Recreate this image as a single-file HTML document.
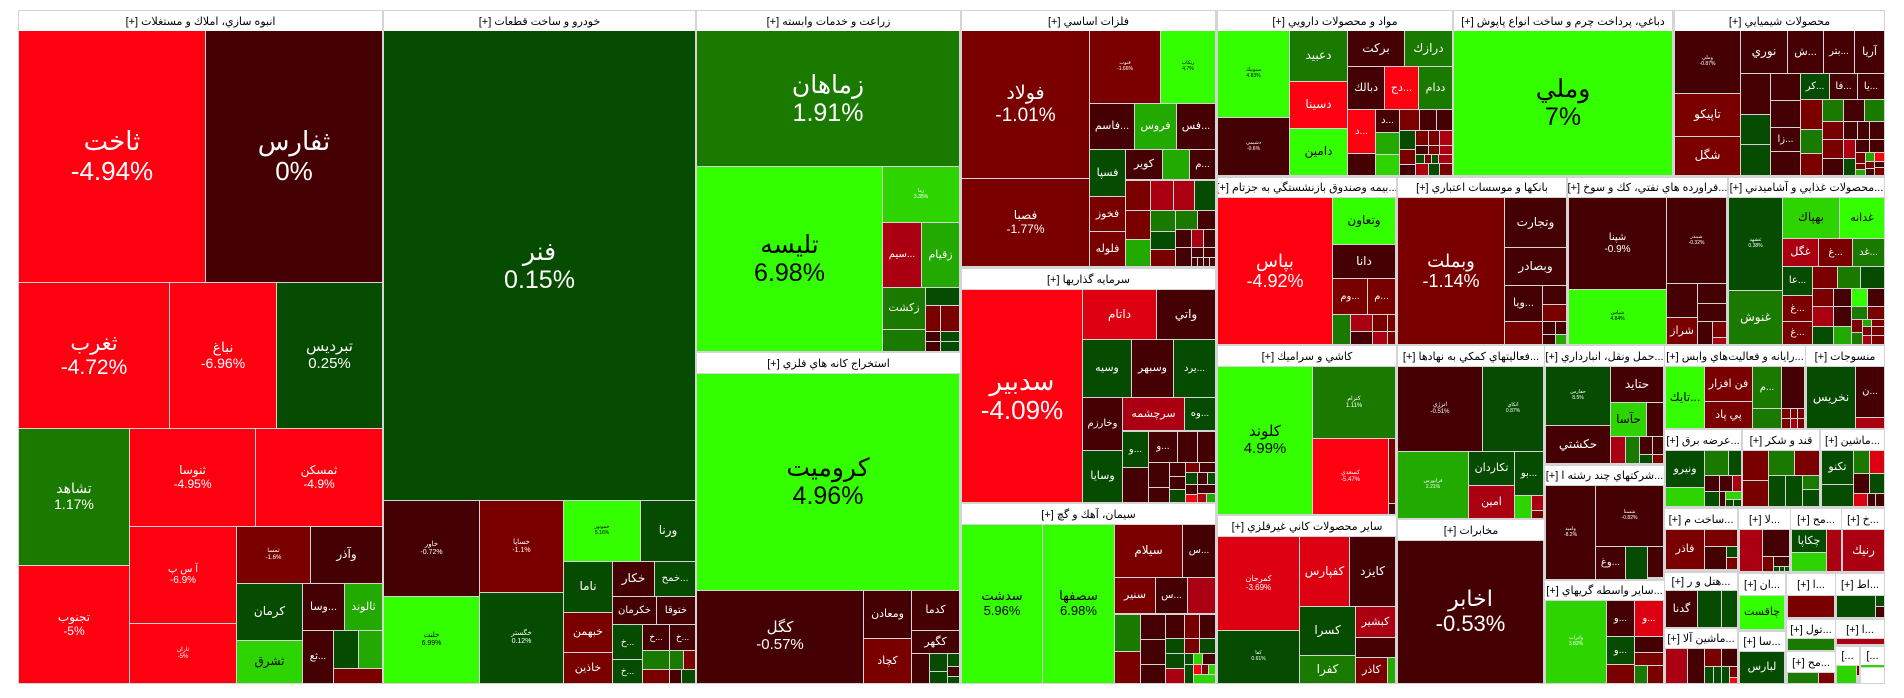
<!DOCTYPE html>
<html><head><meta charset="utf-8">
<style>
body{margin:0;background:#fff;width:1904px;height:698px;overflow:hidden;position:relative;font-family:"Liberation Sans","DejaVu Sans",sans-serif}
#t{position:absolute;left:18px;top:10px;width:1867px;height:674px;background:#d4d4d4}
.c{position:absolute;display:flex;align-items:center;justify-content:center;text-align:center;color:#fff;line-height:1.12;overflow:hidden;white-space:nowrap}
.h{position:absolute;background:#fff;color:#000;font-size:11px;display:flex;align-items:center;justify-content:center;overflow:hidden;white-space:nowrap}
.r{background:#ff0011}.r2{background:#dd0011}.r3{background:#aa0011}.m{background:#7a0000}.d{background:#440003}
.g0{background:#064c00}.g1{background:#1a7a00}.g2{background:#22aa00}.g3{background:#2ed400}.g4{background:#33ff00;color:#000}.k{color:#000}
</style></head><body>
<div id="t"></div>

<!-- Sector 1 -->
<div class="h" dir="rtl" style="left:19px;top:11px;width:363px;height:20px">انبوه سازي، املاك و مستغلات [+]</div>
<div class="c r" style="left:19px;top:31px;width:186px;height:251px;font-size:26px">ثاخت<br>-4.94%</div>
<div class="c d" style="left:206px;top:31px;width:176px;height:251px;font-size:26px">ثفارس<br>0%</div>
<div class="c r" style="left:19px;top:283px;width:150px;height:145px;font-size:21px">ثغرب<br>-4.72%</div>
<div class="c r" style="left:170px;top:283px;width:106px;height:145px;font-size:14px">نباغ<br>-6.96%</div>
<div class="c g0" style="left:277px;top:283px;width:105px;height:145px;font-size:15px">تبرديس<br>0.25%</div>
<div class="c g1" style="left:19px;top:429px;width:110px;height:136px;font-size:14px">تشاهد<br>1.17%</div>
<div class="c r" style="left:19px;top:566px;width:110px;height:117px;font-size:12px">تجنوب<br>-5%</div>
<div class="c r" style="left:130px;top:429px;width:125px;height:97px;font-size:12px">ثنوسا<br>-4.95%</div>
<div class="c r" style="left:256px;top:429px;width:126px;height:97px;font-size:12px">ثمسكن<br>-4.9%</div>
<div class="c r" style="left:130px;top:527px;width:106px;height:96px;font-size:10px">آ س پ<br>-6.9%</div>
<div class="c r" style="left:130px;top:624px;width:106px;height:59px;font-size:6px">ثاران<br>-5%</div>
<div class="c m" style="left:237px;top:527px;width:73px;height:56px;font-size:6px">ثمسا<br>-1.6%</div>
<div class="c d" style="left:311px;top:527px;width:71px;height:56px;font-size:12px">وآذر</div>
<div class="c g0" style="left:237px;top:584px;width:65px;height:56px;font-size:12px">كرمان</div>
<div class="c d" style="left:303px;top:584px;width:41px;height:46px;font-size:11px">وسا...</div>
<div class="c g2" style="left:345px;top:584px;width:37px;height:46px;font-size:11px">ثالوند</div>
<div class="c g3 k" style="left:237px;top:641px;width:65px;height:42px;font-size:12px">ثشرق</div>
<div class="c d" style="left:303px;top:631px;width:30px;height:52px;font-size:10px">ثع...</div>
<div class="c g0" style="left:334px;top:631px;width:24px;height:37px"></div>
<div class="c g2" style="left:359px;top:631px;width:23px;height:37px"></div>
<div class="c m" style="left:334px;top:669px;width:48px;height:14px"></div>

<!-- Sector 2 -->
<div class="h" dir="rtl" style="left:384px;top:11px;width:311px;height:20px">خودرو و ساخت قطعات [+]</div>
<div class="c g0" style="left:384px;top:31px;width:311px;height:469px;font-size:25px">فنر<br>0.15%</div>
<div class="c d" style="left:384px;top:501px;width:95px;height:95px;font-size:7px">خاور<br>-0.72%</div>
<div class="c g4" style="left:384px;top:597px;width:95px;height:86px;font-size:7px">خلنت<br>6.99%</div>
<div class="c m" style="left:480px;top:501px;width:83px;height:91px;font-size:7px">خساپا<br>-1.1%</div>
<div class="c g0" style="left:480px;top:593px;width:83px;height:90px;font-size:7px">خگستر<br>0.12%</div>
<div class="c g4" style="left:564px;top:501px;width:76px;height:60px;font-size:5px">خموتور<br>5.16%</div>
<div class="c g0" style="left:641px;top:501px;width:54px;height:60px;font-size:12px">ورنا</div>
<div class="c g0" style="left:564px;top:562px;width:48px;height:50px;font-size:12px">ناما</div>
<div class="c m" style="left:564px;top:613px;width:48px;height:39px;font-size:11px">خبهمن</div>
<div class="c m" style="left:564px;top:653px;width:48px;height:30px;font-size:11px">خاذين</div>
<div class="c d" style="left:613px;top:562px;width:41px;height:34px;font-size:12px">خكار</div>
<div class="c g0" style="left:655px;top:562px;width:40px;height:34px;font-size:10px">خمح...</div>
<div class="c d" style="left:613px;top:597px;width:43px;height:27px;font-size:10px">خكرمان</div>
<div class="c d" style="left:657px;top:597px;width:38px;height:27px;font-size:10px">ختوقا</div>
<div class="c g0" style="left:613px;top:625px;width:29px;height:34px;font-size:9px">خ...</div>
<div class="c g0" style="left:613px;top:660px;width:29px;height:23px;font-size:9px">خ...</div>
<div class="c d" style="left:643px;top:625px;width:26px;height:25px;font-size:9px">خ...</div>
<div class="c d" style="left:670px;top:625px;width:25px;height:25px;font-size:9px">خ...</div>
<div class="c g1" style="left:643px;top:651px;width:26px;height:18px"></div>
<div class="c g1" style="left:670px;top:651px;width:13px;height:18px"></div>
<div class="c m" style="left:684px;top:651px;width:11px;height:18px"></div>
<div class="c m" style="left:643px;top:670px;width:26px;height:13px"></div>
<div class="c d" style="left:670px;top:670px;width:11px;height:13px"></div>
<div class="c g0" style="left:682px;top:670px;width:13px;height:13px"></div>

<!-- Sector 3 -->
<div class="h" dir="rtl" style="left:697px;top:11px;width:263px;height:20px">زراعت و خدمات وابسته [+]</div>
<div class="c g1" style="left:697px;top:31px;width:262px;height:135px;font-size:25px">زماهان<br>1.91%</div>
<div class="c g4" style="left:697px;top:167px;width:185px;height:184px;font-size:25px">تليسه<br>6.98%</div>
<div class="c g3" style="left:883px;top:167px;width:76px;height:55px;font-size:5px">زما<br>3.35%</div>
<div class="c r3" style="left:883px;top:223px;width:38px;height:64px;font-size:10px">سيم...</div>
<div class="c g2" style="left:922px;top:223px;width:37px;height:64px;font-size:11px">زقيام</div>
<div class="c g1" style="left:883px;top:288px;width:42px;height:41px;font-size:11px">زكشت</div>
<div class="c g1" style="left:883px;top:330px;width:42px;height:21px"></div>
<div class="c g0" style="left:926px;top:288px;width:33px;height:17px"></div>
<div class="c m" style="left:926px;top:306px;width:14px;height:25px"></div>
<div class="c m" style="left:941px;top:306px;width:18px;height:25px"></div>
<div class="c d" style="left:926px;top:332px;width:14px;height:9px"></div>
<div class="c g0" style="left:941px;top:332px;width:18px;height:9px"></div>
<div class="c d" style="left:926px;top:342px;width:14px;height:9px"></div>
<div class="c g0" style="left:941px;top:342px;width:18px;height:9px"></div>

<!-- Sector 4 -->
<div class="h" dir="rtl" style="left:697px;top:353px;width:263px;height:20px">استخراج كانه هاي فلزي [+]</div>
<div class="c g4" style="left:697px;top:374px;width:262px;height:216px;font-size:25px">كروميت<br>4.96%</div>
<div class="c d" style="left:697px;top:591px;width:166px;height:92px;font-size:15px">كگل<br>-0.57%</div>
<div class="c d" style="left:864px;top:591px;width:47px;height:47px;font-size:11px">ومعادن</div>
<div class="c m" style="left:864px;top:639px;width:47px;height:44px;font-size:11px">كچاد</div>
<div class="c d" style="left:912px;top:591px;width:47px;height:39px;font-size:11px">كدما</div>
<div class="c d" style="left:912px;top:631px;width:47px;height:22px;font-size:11px">كگهر</div>
<div class="c d" style="left:912px;top:654px;width:17px;height:29px"></div>
<div class="c g0" style="left:930px;top:654px;width:17px;height:17px"></div>
<div class="c g0" style="left:930px;top:672px;width:17px;height:11px"></div>
<div class="c g0" style="left:948px;top:654px;width:11px;height:12px"></div>
<div class="c d" style="left:948px;top:667px;width:11px;height:9px"></div>
<div class="c g0" style="left:948px;top:677px;width:11px;height:6px"></div>

<!-- Sector 5 -->
<div class="h" dir="rtl" style="left:962px;top:11px;width:253px;height:20px">فلزات اساسي [+]</div>
<div class="c m" style="left:962px;top:31px;width:127px;height:147px;font-size:19px">فولاد<br>-1.01%</div>
<div class="c m" style="left:962px;top:179px;width:127px;height:87px;font-size:12px">فصبا<br>-1.77%</div>
<div class="c m" style="left:1090px;top:31px;width:70px;height:72px;font-size:5px">فنوب<br>-1.66%</div>
<div class="c g4" style="left:1161px;top:31px;width:54px;height:72px;font-size:5px">ريكاب<br>4.7%</div>
<div class="c d" style="left:1090px;top:104px;width:44px;height:45px;font-size:11px">فاسم...</div>
<div class="c g2" style="left:1135px;top:104px;width:41px;height:45px;font-size:11px">فروس</div>
<div class="c d" style="left:1177px;top:104px;width:38px;height:45px;font-size:11px">فس...</div>
<div class="c g0" style="left:1090px;top:150px;width:35px;height:46px;font-size:11px">فسپا</div>
<div class="c d" style="left:1126px;top:150px;width:36px;height:29px;font-size:11px">كوير</div>
<div class="c g2" style="left:1163px;top:150px;width:26px;height:29px"></div>
<div class="c d" style="left:1190px;top:150px;width:25px;height:29px;font-size:10px">م...</div>
<div class="c m" style="left:1090px;top:197px;width:35px;height:34px;font-size:11px">فخوز</div>
<div class="c m" style="left:1090px;top:232px;width:35px;height:34px;font-size:11px">فلوله</div>
<div class="c m" style="left:1126px;top:181px;width:24px;height:29px"></div>
<div class="c r3" style="left:1151px;top:181px;width:22px;height:29px"></div>
<div class="c r3" style="left:1174px;top:181px;width:20px;height:29px"></div>
<div class="c g0" style="left:1195px;top:181px;width:20px;height:29px"></div>
<div class="c m" style="left:1126px;top:211px;width:24px;height:28px"></div>
<div class="c g2" style="left:1126px;top:240px;width:24px;height:26px"></div>
<div class="c g1" style="left:1151px;top:211px;width:24px;height:20px"></div>
<div class="c g0" style="left:1151px;top:232px;width:24px;height:17px"></div>
<div class="c m" style="left:1151px;top:250px;width:24px;height:16px"></div>
<div class="c g1" style="left:1176px;top:211px;width:21px;height:18px"></div>
<div class="c d" style="left:1198px;top:211px;width:17px;height:18px"></div>
<div class="c d" style="left:1176px;top:230px;width:15px;height:17px"></div>
<div class="c r3" style="left:1192px;top:230px;width:11px;height:17px"></div>
<div class="c d" style="left:1204px;top:230px;width:11px;height:17px"></div>
<div class="c d" style="left:1176px;top:248px;width:15px;height:18px"></div>
<div class="c d" style="left:1192px;top:248px;width:11px;height:9px"></div>
<div class="c d" style="left:1204px;top:248px;width:11px;height:9px"></div>
<div class="c d" style="left:1192px;top:258px;width:5px;height:8px"></div>
<div class="c d" style="left:1198px;top:258px;width:5px;height:8px"></div>
<div class="c d" style="left:1204px;top:258px;width:5px;height:8px"></div>
<div class="c d" style="left:1210px;top:258px;width:5px;height:8px"></div>

<!-- Sector 6 -->
<div class="h" dir="rtl" style="left:962px;top:269px;width:253px;height:20px">سرمايه گذاريها [+]</div>
<div class="c r" style="left:962px;top:290px;width:120px;height:212px;font-size:26px">سدبير<br>-4.09%</div>
<div class="c r2" style="left:1083px;top:290px;width:73px;height:49px;font-size:12px">داتام</div>
<div class="c d" style="left:1157px;top:290px;width:58px;height:49px;font-size:12px">واتي</div>
<div class="c g0" style="left:1083px;top:340px;width:48px;height:57px;font-size:11px">وسيه</div>
<div class="c d" style="left:1132px;top:340px;width:41px;height:57px;font-size:11px">وسبهر</div>
<div class="c g0" style="left:1174px;top:340px;width:41px;height:57px;font-size:10px">يرد...</div>
<div class="c d" style="left:1083px;top:398px;width:39px;height:52px;font-size:10px">وخارزم</div>
<div class="c g0" style="left:1083px;top:451px;width:39px;height:51px;font-size:11px">وسايا</div>
<div class="c r3" style="left:1123px;top:398px;width:61px;height:32px;font-size:11px">سرچشمه</div>
<div class="c g0" style="left:1185px;top:398px;width:30px;height:32px;font-size:10px">وه...</div>
<div class="c g0" style="left:1123px;top:432px;width:25px;height:35px;font-size:10px">و...</div>
<div class="c d" style="left:1123px;top:468px;width:25px;height:34px"></div>
<div class="c d" style="left:1149px;top:432px;width:28px;height:30px;font-size:10px">و...</div>
<div class="c d" style="left:1178px;top:432px;width:19px;height:30px"></div>
<div class="c d" style="left:1198px;top:432px;width:17px;height:30px"></div>
<div class="c d" style="left:1149px;top:463px;width:20px;height:24px"></div>
<div class="c d" style="left:1149px;top:488px;width:20px;height:14px"></div>
<div class="c d" style="left:1170px;top:463px;width:15px;height:13px"></div>
<div class="c d" style="left:1170px;top:477px;width:15px;height:12px"></div>
<div class="c g0" style="left:1170px;top:490px;width:15px;height:12px"></div>
<div class="c m" style="left:1186px;top:463px;width:13px;height:9px"></div>
<div class="c d" style="left:1200px;top:463px;width:15px;height:9px"></div>
<div class="c g0" style="left:1186px;top:473px;width:11px;height:11px"></div>
<div class="c d" style="left:1198px;top:473px;width:9px;height:11px"></div>
<div class="c g0" style="left:1208px;top:473px;width:7px;height:11px"></div>
<div class="c d" style="left:1186px;top:485px;width:11px;height:9px"></div>
<div class="c r" style="left:1186px;top:495px;width:11px;height:7px"></div>
<div class="c d" style="left:1198px;top:485px;width:17px;height:8px"></div>
<div class="c r3" style="left:1198px;top:494px;width:8px;height:8px"></div>
<div class="c g2" style="left:1207px;top:494px;width:8px;height:8px"></div>

<!-- Sector 7 -->
<div class="h" dir="rtl" style="left:962px;top:504px;width:253px;height:20px">سيمان، آهك و گچ [+]</div>
<div class="c g4" style="left:962px;top:525px;width:80px;height:158px;font-size:13px">سدشت<br>5.96%</div>
<div class="c g4" style="left:1043px;top:525px;width:71px;height:158px;font-size:13px">سصفها<br>6.98%</div>
<div class="c m" style="left:1115px;top:525px;width:67px;height:52px;font-size:12px">سيلام</div>
<div class="c d" style="left:1183px;top:525px;width:32px;height:52px;font-size:10px">س...</div>
<div class="c m" style="left:1115px;top:578px;width:40px;height:35px;font-size:11px">سنير</div>
<div class="c d" style="left:1156px;top:578px;width:31px;height:35px;font-size:10px">س...</div>
<div class="c r3" style="left:1188px;top:578px;width:27px;height:35px"></div>
<div class="c g1" style="left:1115px;top:615px;width:25px;height:36px"></div>
<div class="c m" style="left:1115px;top:652px;width:25px;height:31px"></div>
<div class="c d" style="left:1141px;top:615px;width:24px;height:24px"></div>
<div class="c d" style="left:1141px;top:640px;width:24px;height:24px"></div>
<div class="c d" style="left:1141px;top:665px;width:24px;height:18px"></div>
<div class="c d" style="left:1166px;top:615px;width:18px;height:23px"></div>
<div class="c m" style="left:1185px;top:615px;width:14px;height:23px"></div>
<div class="c d" style="left:1200px;top:615px;width:15px;height:23px"></div>
<div class="c g0" style="left:1166px;top:639px;width:18px;height:14px"></div>
<div class="c g0" style="left:1166px;top:654px;width:18px;height:14px"></div>
<div class="c r3" style="left:1166px;top:669px;width:18px;height:14px"></div>
<div class="c m" style="left:1185px;top:639px;width:14px;height:14px"></div>
<div class="c g0" style="left:1200px;top:639px;width:15px;height:14px"></div>
<div class="c g0" style="left:1185px;top:654px;width:8px;height:10px"></div>
<div class="c g3" style="left:1194px;top:654px;width:8px;height:10px"></div>
<div class="c d" style="left:1203px;top:654px;width:12px;height:10px"></div>
<div class="c g0" style="left:1185px;top:665px;width:8px;height:18px"></div>
<div class="c r" style="left:1194px;top:665px;width:7px;height:9px"></div>
<div class="c m" style="left:1202px;top:665px;width:6px;height:9px"></div>
<div class="c g3" style="left:1209px;top:665px;width:6px;height:9px"></div>
<div class="c g3" style="left:1194px;top:675px;width:21px;height:8px"></div>

<!-- Sector 8 -->
<div class="h" dir="rtl" style="left:1218px;top:11px;width:234px;height:20px">مواد و محصولات دارويي [+]</div>
<div class="c g4" style="left:1218px;top:31px;width:71px;height:86px;font-size:5px">سبونيك<br>4.83%</div>
<div class="c d" style="left:1218px;top:118px;width:71px;height:57px;font-size:5px">دشيمي<br>-0.6%</div>
<div class="c g1" style="left:1290px;top:31px;width:57px;height:50px;font-size:12px">دعبيد</div>
<div class="c r" style="left:1290px;top:82px;width:57px;height:46px;font-size:12px">دسينا</div>
<div class="c g4" style="left:1290px;top:129px;width:57px;height:46px;font-size:12px">دامين</div>
<div class="c d" style="left:1348px;top:31px;width:56px;height:35px;font-size:12px">بركت</div>
<div class="c g1" style="left:1405px;top:31px;width:47px;height:35px;font-size:12px">درازك</div>
<div class="c d" style="left:1348px;top:67px;width:36px;height:42px;font-size:11px">دبالك</div>
<div class="c r" style="left:1385px;top:67px;width:33px;height:42px;font-size:11px">دج...</div>
<div class="c g1" style="left:1419px;top:67px;width:33px;height:42px;font-size:11px">ددام</div>
<div class="c r" style="left:1348px;top:110px;width:27px;height:43px;font-size:10px">د...</div>
<div class="c d" style="left:1348px;top:154px;width:27px;height:21px"></div>
<div class="c d" style="left:1376px;top:110px;width:23px;height:22px;font-size:10px">د...</div>
<div class="c g2" style="left:1376px;top:133px;width:23px;height:21px"></div>
<div class="c g3" style="left:1376px;top:155px;width:23px;height:20px"></div>
<div class="c m" style="left:1400px;top:110px;width:19px;height:20px"></div>
<div class="c d" style="left:1420px;top:110px;width:16px;height:20px"></div>
<div class="c d" style="left:1437px;top:110px;width:15px;height:20px"></div>
<div class="c g0" style="left:1400px;top:131px;width:15px;height:18px"></div>
<div class="c m" style="left:1400px;top:150px;width:15px;height:14px"></div>
<div class="c d" style="left:1400px;top:165px;width:15px;height:10px"></div>
<div class="c m" style="left:1416px;top:131px;width:12px;height:14px"></div>
<div class="c m" style="left:1429px;top:131px;width:10px;height:14px"></div>
<div class="c r3" style="left:1440px;top:131px;width:12px;height:14px"></div>
<div class="c d" style="left:1416px;top:146px;width:12px;height:8px"></div>
<div class="c m" style="left:1429px;top:146px;width:10px;height:8px"></div>
<div class="c r3" style="left:1440px;top:146px;width:12px;height:8px"></div>
<div class="c g0" style="left:1416px;top:155px;width:8px;height:8px"></div>
<div class="c m" style="left:1425px;top:155px;width:6px;height:8px"></div>
<div class="c g0" style="left:1432px;top:155px;width:6px;height:8px"></div>
<div class="c r3" style="left:1439px;top:155px;width:13px;height:8px"></div>
<div class="c r3" style="left:1416px;top:164px;width:12px;height:11px"></div>
<div class="c g0" style="left:1429px;top:164px;width:10px;height:11px"></div>
<div class="c m" style="left:1440px;top:164px;width:12px;height:11px"></div>

<!-- Sector 9 -->
<div class="h" dir="rtl" style="left:1454px;top:11px;width:218px;height:20px">دباغي، پرداخت چرم و ساخت انواع پاپوش [+]</div>
<div class="c g4" style="left:1454px;top:31px;width:218px;height:144px;font-size:25px">وملي<br>7%</div>

<!-- Sector 10 -->
<div class="h" dir="rtl" style="left:1675px;top:11px;width:209px;height:20px">محصولات شيميايي [+]</div>
<div class="c d" style="left:1675px;top:31px;width:65px;height:62px;font-size:5px">وملي<br>-0.87%</div>
<div class="c m" style="left:1675px;top:94px;width:65px;height:42px;font-size:12px">تاپيكو</div>
<div class="c m" style="left:1675px;top:137px;width:65px;height:38px;font-size:12px">شگل</div>
<div class="c d" style="left:1741px;top:31px;width:46px;height:42px;font-size:12px">نوري</div>
<div class="c d" style="left:1788px;top:31px;width:35px;height:42px;font-size:11px">ش...</div>
<div class="c d" style="left:1824px;top:31px;width:30px;height:42px;font-size:10px">بتر...</div>
<div class="c d" style="left:1855px;top:31px;width:29px;height:42px;font-size:11px">آريا</div>
<div class="c d" style="left:1741px;top:74px;width:29px;height:40px"></div>
<div class="c g0" style="left:1741px;top:115px;width:29px;height:29px"></div>
<div class="c g0" style="left:1741px;top:145px;width:29px;height:30px"></div>
<div class="c d" style="left:1771px;top:74px;width:29px;height:26px"></div>
<div class="c d" style="left:1771px;top:101px;width:29px;height:26px"></div>
<div class="c d" style="left:1771px;top:128px;width:29px;height:23px;font-size:10px">زا...</div>
<div class="c d" style="left:1771px;top:152px;width:29px;height:23px"></div>
<div class="c g0" style="left:1801px;top:74px;width:28px;height:25px;font-size:10px">كر...</div>
<div class="c d" style="left:1830px;top:74px;width:27px;height:25px;font-size:10px">فا...</div>
<div class="c d" style="left:1858px;top:74px;width:26px;height:25px;font-size:10px">يا...</div>
<div class="c m" style="left:1801px;top:100px;width:21px;height:29px"></div>
<div class="c g1" style="left:1801px;top:130px;width:21px;height:23px"></div>
<div class="c m" style="left:1801px;top:154px;width:21px;height:21px"></div>
<div class="c g1" style="left:1823px;top:100px;width:20px;height:21px"></div>
<div class="c d" style="left:1844px;top:100px;width:20px;height:21px"></div>
<div class="c g1" style="left:1865px;top:100px;width:19px;height:21px"></div>
<div class="c m" style="left:1823px;top:122px;width:20px;height:17px"></div>
<div class="c d" style="left:1844px;top:122px;width:13px;height:17px"></div>
<div class="c d" style="left:1858px;top:122px;width:11px;height:17px"></div>
<div class="c d" style="left:1870px;top:122px;width:14px;height:17px"></div>
<div class="c m" style="left:1823px;top:140px;width:20px;height:18px"></div>
<div class="c r3" style="left:1844px;top:140px;width:11px;height:18px"></div>
<div class="c d" style="left:1856px;top:140px;width:13px;height:12px"></div>
<div class="c d" style="left:1870px;top:140px;width:14px;height:12px"></div>
<div class="c d" style="left:1823px;top:159px;width:20px;height:16px"></div>
<div class="c g0" style="left:1844px;top:159px;width:11px;height:16px"></div>
<div class="c m" style="left:1856px;top:153px;width:9px;height:10px"></div>
<div class="c g2" style="left:1866px;top:153px;width:8px;height:8px"></div>
<div class="c r" style="left:1875px;top:153px;width:9px;height:8px"></div>
<div class="c m" style="left:1856px;top:164px;width:9px;height:5px"></div>
<div class="c m" style="left:1866px;top:162px;width:8px;height:6px"></div>
<div class="c d" style="left:1875px;top:162px;width:9px;height:5px"></div>
<div class="c g2" style="left:1856px;top:170px;width:9px;height:5px"></div>
<div class="c d" style="left:1866px;top:169px;width:8px;height:6px"></div>
<div class="c m" style="left:1875px;top:168px;width:9px;height:7px"></div>

<!-- Sector 11 -->
<div class="h" dir="rtl" style="left:1218px;top:178px;width:178px;height:19px">...بيمه وصندوق بازنشستگي به جزتام [+]</div>
<div class="c r" style="left:1218px;top:198px;width:114px;height:146px;font-size:18px">بپاس<br>-4.92%</div>
<div class="c g4" style="left:1333px;top:198px;width:62px;height:46px;font-size:12px">وتعاون</div>
<div class="c d" style="left:1333px;top:245px;width:62px;height:33px;font-size:12px">دانا</div>
<div class="c m" style="left:1333px;top:279px;width:34px;height:35px;font-size:10px">وم...</div>
<div class="c m" style="left:1368px;top:279px;width:27px;height:35px;font-size:10px">م...</div>
<div class="c g1" style="left:1333px;top:315px;width:17px;height:29px"></div>
<div class="c r3" style="left:1351px;top:315px;width:21px;height:16px"></div>
<div class="c m" style="left:1373px;top:315px;width:14px;height:16px"></div>
<div class="c m" style="left:1388px;top:315px;width:7px;height:16px"></div>
<div class="c d" style="left:1351px;top:332px;width:21px;height:12px"></div>
<div class="c r3" style="left:1373px;top:332px;width:14px;height:12px"></div>
<div class="c m" style="left:1388px;top:332px;width:7px;height:12px"></div>

<!-- Sector 12 -->
<div class="h" dir="rtl" style="left:1398px;top:178px;width:168px;height:19px">بانكها و موسسات اعتباري [+]</div>
<div class="c m" style="left:1398px;top:198px;width:106px;height:146px;font-size:18px">وبملت<br>-1.14%</div>
<div class="c d" style="left:1505px;top:198px;width:61px;height:49px;font-size:12px">وتجارت</div>
<div class="c d" style="left:1505px;top:248px;width:61px;height:37px;font-size:12px">وبصادر</div>
<div class="c d" style="left:1505px;top:286px;width:37px;height:35px;font-size:11px">ويا...</div>
<div class="c d" style="left:1543px;top:286px;width:23px;height:18px"></div>
<div class="c m" style="left:1543px;top:305px;width:23px;height:16px"></div>
<div class="c m" style="left:1505px;top:322px;width:37px;height:22px"></div>
<div class="c d" style="left:1543px;top:322px;width:12px;height:12px"></div>
<div class="c d" style="left:1556px;top:322px;width:10px;height:12px"></div>
<div class="c d" style="left:1543px;top:335px;width:12px;height:9px"></div>
<div class="c g2" style="left:1556px;top:335px;width:10px;height:9px"></div>

<!-- Sector 13 -->
<div class="h" dir="rtl" style="left:1568px;top:178px;width:159px;height:19px">...فراورده هاي نفتي، كك و سوخ [+]</div>
<div class="c d" style="left:1569px;top:198px;width:97px;height:91px;font-size:10px">شپنا<br>-0.9%</div>
<div class="c g4" style="left:1569px;top:290px;width:97px;height:54px;font-size:5px">شپاس<br>4.84%</div>
<div class="c d" style="left:1667px;top:198px;width:59px;height:85px;font-size:5px">شبندر<br>-0.32%</div>
<div class="c d" style="left:1667px;top:284px;width:30px;height:33px"></div>
<div class="c d" style="left:1698px;top:284px;width:28px;height:19px"></div>
<div class="c d" style="left:1698px;top:304px;width:28px;height:17px"></div>
<div class="c m" style="left:1667px;top:318px;width:30px;height:26px;font-size:11px">شراز</div>
<div class="c d" style="left:1698px;top:322px;width:14px;height:22px"></div>
<div class="c m" style="left:1713px;top:322px;width:13px;height:15px"></div>
<div class="c r3" style="left:1713px;top:338px;width:13px;height:6px"></div>

<!-- Sector 14 -->
<div class="h" dir="rtl" style="left:1729px;top:178px;width:155px;height:19px">...محصولات غذايي و آشاميدني [+]</div>
<div class="c g0" style="left:1729px;top:198px;width:53px;height:92px;font-size:5px">غشهد<br>0.38%</div>
<div class="c g1" style="left:1729px;top:291px;width:53px;height:53px;font-size:12px">غنوش</div>
<div class="c g3 k" style="left:1783px;top:198px;width:56px;height:40px;font-size:12px">بهپاك</div>
<div class="c g4" style="left:1840px;top:198px;width:44px;height:40px;font-size:11px">غدانه</div>
<div class="c r3" style="left:1783px;top:239px;width:35px;height:27px;font-size:11px">غگل</div>
<div class="c m" style="left:1819px;top:239px;width:33px;height:27px;font-size:10px">غ...</div>
<div class="c g1" style="left:1853px;top:239px;width:31px;height:27px;font-size:10px">غد...</div>
<div class="c g0" style="left:1783px;top:267px;width:29px;height:28px;font-size:10px">عا...</div>
<div class="c m" style="left:1783px;top:296px;width:29px;height:25px;font-size:10px">غ...</div>
<div class="c m" style="left:1783px;top:322px;width:29px;height:22px;font-size:10px">غ...</div>
<div class="c m" style="left:1813px;top:267px;width:24px;height:21px"></div>
<div class="c g1" style="left:1838px;top:267px;width:22px;height:21px"></div>
<div class="c g0" style="left:1861px;top:267px;width:23px;height:21px"></div>
<div class="c m" style="left:1813px;top:289px;width:20px;height:17px"></div>
<div class="c d" style="left:1834px;top:289px;width:17px;height:17px"></div>
<div class="c g4" style="left:1852px;top:289px;width:15px;height:17px"></div>
<div class="c d" style="left:1868px;top:289px;width:16px;height:17px"></div>
<div class="c r3" style="left:1813px;top:307px;width:20px;height:19px"></div>
<div class="c d" style="left:1834px;top:307px;width:17px;height:19px"></div>
<div class="c g1" style="left:1852px;top:307px;width:15px;height:12px"></div>
<div class="c m" style="left:1868px;top:307px;width:16px;height:12px"></div>
<div class="c g0" style="left:1813px;top:327px;width:20px;height:17px"></div>
<div class="c g2" style="left:1834px;top:327px;width:17px;height:17px"></div>
<div class="c m" style="left:1852px;top:320px;width:10px;height:12px"></div>
<div class="c g2" style="left:1863px;top:320px;width:8px;height:6px"></div>
<div class="c m" style="left:1872px;top:320px;width:12px;height:6px"></div>
<div class="c g1" style="left:1852px;top:333px;width:10px;height:11px"></div>
<div class="c m" style="left:1863px;top:327px;width:8px;height:8px"></div>
<div class="c m" style="left:1872px;top:327px;width:12px;height:8px"></div>
<div class="c r3" style="left:1863px;top:336px;width:8px;height:8px"></div>
<div class="c m" style="left:1872px;top:336px;width:12px;height:8px"></div>

<!-- Sector 15 -->
<div class="h" dir="rtl" style="left:1218px;top:346px;width:178px;height:20px">كاشي و سراميك [+]</div>
<div class="c g4" style="left:1218px;top:367px;width:94px;height:147px;font-size:15px">كلوند<br>4.99%</div>
<div class="c g1" style="left:1313px;top:367px;width:82px;height:71px;font-size:6px">كنرام<br>1.11%</div>
<div class="c r" style="left:1313px;top:439px;width:75px;height:75px;font-size:6px">كسعدي<br>-5.47%</div>
<div class="c m" style="left:1389px;top:439px;width:6px;height:64px"></div>
<div class="c d" style="left:1389px;top:504px;width:6px;height:10px"></div>

<!-- Sector 16 -->
<div class="h" dir="rtl" style="left:1218px;top:516px;width:178px;height:20px">ساير محصولات كاني غيرفلزي [+]</div>
<div class="c r2" style="left:1218px;top:537px;width:81px;height:93px;font-size:8px">كمرجان<br>-3.69%</div>
<div class="c g0" style="left:1218px;top:631px;width:81px;height:52px;font-size:5px">كفا<br>0.61%</div>
<div class="c r2" style="left:1300px;top:537px;width:49px;height:69px;font-size:12px">كفپارس</div>
<div class="c d" style="left:1350px;top:537px;width:45px;height:69px;font-size:12px">كايزد</div>
<div class="c g0" style="left:1300px;top:607px;width:55px;height:48px;font-size:12px">كسرا</div>
<div class="c g1" style="left:1300px;top:656px;width:55px;height:27px;font-size:12px">كفرا</div>
<div class="c r3" style="left:1356px;top:607px;width:39px;height:30px;font-size:11px">كبشير</div>
<div class="c d" style="left:1356px;top:638px;width:39px;height:19px"></div>
<div class="c m" style="left:1356px;top:658px;width:31px;height:25px;font-size:11px">كاذر</div>
<div class="c g2" style="left:1388px;top:658px;width:7px;height:25px"></div>

<!-- Sector 17 -->
<div class="h" dir="rtl" style="left:1398px;top:346px;width:146px;height:20px">...فعاليتهاي كمكي به نهادها [+]</div>
<div class="c d" style="left:1398px;top:367px;width:84px;height:84px;font-size:6px">انرژي<br>-0.51%</div>
<div class="c g0" style="left:1483px;top:367px;width:60px;height:84px;font-size:5px">اتكاي<br>0.87%</div>
<div class="c g2" style="left:1398px;top:452px;width:70px;height:66px;font-size:5px">فرابورس<br>2.21%</div>
<div class="c g0" style="left:1469px;top:452px;width:45px;height:33px;font-size:11px">تكاردان</div>
<div class="c r3" style="left:1469px;top:486px;width:45px;height:32px;font-size:11px">امين</div>
<div class="c g0" style="left:1515px;top:452px;width:28px;height:43px;font-size:10px">بو...</div>
<div class="c g3" style="left:1515px;top:496px;width:16px;height:22px"></div>
<div class="c r3" style="left:1532px;top:496px;width:11px;height:14px"></div>
<div class="c m" style="left:1532px;top:511px;width:11px;height:7px"></div>

<!-- Sector 18 -->
<div class="h" dir="rtl" style="left:1398px;top:520px;width:146px;height:20px">مخابرات [+]</div>
<div class="c d" style="left:1398px;top:541px;width:145px;height:142px;font-size:22px">اخابر<br>-0.53%</div>

<!-- Sector 19 -->
<div class="h" dir="rtl" style="left:1545px;top:346px;width:119px;height:20px">...حمل ونقل، انبارداري [+]</div>
<div class="c g0" style="left:1546px;top:367px;width:64px;height:58px;font-size:5px">حفارس<br>8.5%</div>
<div class="c d" style="left:1611px;top:367px;width:52px;height:35px;font-size:12px">حتايد</div>
<div class="c g3 k" style="left:1611px;top:403px;width:35px;height:33px;font-size:12px">حآسا</div>
<div class="c d" style="left:1647px;top:403px;width:16px;height:33px"></div>
<div class="c d" style="left:1546px;top:426px;width:64px;height:37px;font-size:12px">حكشتي</div>
<div class="c r3" style="left:1611px;top:437px;width:14px;height:26px"></div>
<div class="c g1" style="left:1626px;top:437px;width:13px;height:26px"></div>
<div class="c d" style="left:1640px;top:437px;width:12px;height:17px"></div>
<div class="c d" style="left:1653px;top:437px;width:10px;height:17px"></div>
<div class="c g0" style="left:1640px;top:455px;width:12px;height:8px"></div>
<div class="c m" style="left:1653px;top:455px;width:10px;height:8px"></div>

<!-- Sector 20 -->
<div class="h" dir="rtl" style="left:1545px;top:466px;width:119px;height:19px">...شركتهاي چند رشته ا [+]</div>
<div class="c d" style="left:1546px;top:486px;width:49px;height:93px;font-size:5px">واميد<br>-8.2%</div>
<div class="c d" style="left:1596px;top:486px;width:67px;height:60px;font-size:5px">شستا<br>-0.82%</div>
<div class="c d" style="left:1596px;top:547px;width:29px;height:32px;font-size:10px">وغ...</div>
<div class="c g0" style="left:1626px;top:547px;width:21px;height:32px"></div>
<div class="c d" style="left:1648px;top:547px;width:15px;height:30px"></div>

<!-- Sector 21 -->
<div class="h" dir="rtl" style="left:1545px;top:581px;width:119px;height:19px">...ساير واسطه گريهاي [+]</div>
<div class="c g3" style="left:1546px;top:601px;width:60px;height:82px;font-size:5px">وابرات<br>3.82%</div>
<div class="c d" style="left:1607px;top:601px;width:27px;height:35px;font-size:10px">و...</div>
<div class="c r2" style="left:1635px;top:601px;width:28px;height:35px;font-size:10px">و...</div>
<div class="c g0" style="left:1607px;top:637px;width:27px;height:27px;font-size:10px">و...</div>
<div class="c m" style="left:1607px;top:665px;width:27px;height:18px"></div>
<div class="c d" style="left:1635px;top:637px;width:28px;height:15px"></div>
<div class="c m" style="left:1635px;top:653px;width:28px;height:12px"></div>
<div class="c g1" style="left:1635px;top:666px;width:12px;height:17px"></div>
<div class="c m" style="left:1648px;top:666px;width:15px;height:17px"></div>

<!-- Sector 22 -->
<div class="h" dir="rtl" style="left:1665px;top:346px;width:140px;height:20px">...رايانه و فعاليت‌هاي وابس [+]</div>
<div class="c g4" style="left:1666px;top:367px;width:38px;height:61px;font-size:12px">تايك...</div>
<div class="c m" style="left:1705px;top:367px;width:47px;height:34px;font-size:11px">فن افزار</div>
<div class="c m" style="left:1705px;top:402px;width:47px;height:26px;font-size:11px">پي پاد</div>
<div class="c g1" style="left:1753px;top:367px;width:28px;height:41px;font-size:10px">م...</div>
<div class="c d" style="left:1782px;top:367px;width:22px;height:41px"></div>
<div class="c g1" style="left:1753px;top:409px;width:28px;height:19px"></div>
<div class="c m" style="left:1782px;top:409px;width:8px;height:9px"></div>
<div class="c m" style="left:1791px;top:409px;width:6px;height:9px"></div>
<div class="c m" style="left:1798px;top:409px;width:6px;height:9px"></div>
<div class="c m" style="left:1782px;top:419px;width:8px;height:9px"></div>
<div class="c r3" style="left:1791px;top:419px;width:6px;height:9px"></div>
<div class="c m" style="left:1798px;top:419px;width:6px;height:9px"></div>

<!-- Sector 23 -->
<div class="h" dir="rtl" style="left:1806px;top:346px;width:78px;height:20px">منسوجات [+]</div>
<div class="c g0" style="left:1807px;top:367px;width:48px;height:61px;font-size:12px">نخريس</div>
<div class="c d" style="left:1856px;top:367px;width:28px;height:50px;font-size:10px">ن...</div>
<div class="c r3" style="left:1856px;top:418px;width:28px;height:10px"></div>

<!-- Sector 24 -->
<div class="h" dir="rtl" style="left:1665px;top:430px;width:76px;height:20px">...عرضه برق [+]</div>
<div class="c g0" style="left:1666px;top:451px;width:38px;height:36px;font-size:11px">ونيرو</div>
<div class="c g3" style="left:1666px;top:488px;width:38px;height:18px"></div>
<div class="c g1" style="left:1705px;top:451px;width:23px;height:24px"></div>
<div class="c g0" style="left:1729px;top:451px;width:12px;height:24px"></div>
<div class="c d" style="left:1705px;top:476px;width:14px;height:15px"></div>
<div class="c d" style="left:1720px;top:476px;width:12px;height:15px"></div>
<div class="c r3" style="left:1733px;top:476px;width:8px;height:15px"></div>
<div class="c g0" style="left:1705px;top:492px;width:14px;height:14px"></div>
<div class="c d" style="left:1720px;top:492px;width:5px;height:14px"></div>
<div class="c g3" style="left:1726px;top:492px;width:15px;height:7px"></div>
<div class="c g0" style="left:1726px;top:500px;width:7px;height:6px"></div>
<div class="c g0" style="left:1734px;top:500px;width:7px;height:6px"></div>

<!-- Sector 25 -->
<div class="h" dir="rtl" style="left:1743px;top:430px;width:76px;height:20px">قند و شكر [+]</div>
<div class="c m" style="left:1743px;top:451px;width:25px;height:29px"></div>
<div class="c g1" style="left:1769px;top:451px;width:25px;height:24px"></div>
<div class="c m" style="left:1795px;top:451px;width:24px;height:24px"></div>
<div class="c m" style="left:1743px;top:481px;width:25px;height:25px"></div>
<div class="c g0" style="left:1769px;top:476px;width:16px;height:30px"></div>
<div class="c g0" style="left:1786px;top:476px;width:16px;height:30px"></div>
<div class="c g1" style="left:1803px;top:476px;width:16px;height:13px"></div>
<div class="c g0" style="left:1803px;top:490px;width:16px;height:16px"></div>

<!-- Sector 26 -->
<div class="h" dir="rtl" style="left:1821px;top:430px;width:63px;height:20px">...ماشين [+]</div>
<div class="c g0" style="left:1822px;top:451px;width:31px;height:33px;font-size:11px">تكنو</div>
<div class="c g0" style="left:1822px;top:485px;width:31px;height:21px"></div>
<div class="c g1" style="left:1854px;top:451px;width:15px;height:22px"></div>
<div class="c r2" style="left:1870px;top:451px;width:14px;height:22px"></div>
<div class="c d" style="left:1854px;top:474px;width:15px;height:19px"></div>
<div class="c g0" style="left:1870px;top:474px;width:14px;height:19px"></div>
<div class="c r2" style="left:1854px;top:494px;width:13px;height:12px"></div>
<div class="c d" style="left:1868px;top:494px;width:7px;height:12px"></div>
<div class="c d" style="left:1876px;top:494px;width:8px;height:12px"></div>

<!-- Sector 27 -->
<div class="h" dir="rtl" style="left:1665px;top:509px;width:72px;height:20px">...ساخت م [+]</div>
<div class="c m" style="left:1666px;top:530px;width:38px;height:39px;font-size:11px">فاذر</div>
<div class="c m" style="left:1705px;top:530px;width:32px;height:16px"></div>
<div class="c d" style="left:1705px;top:547px;width:21px;height:22px"></div>
<div class="c g0" style="left:1727px;top:547px;width:10px;height:10px"></div>
<div class="c m" style="left:1727px;top:558px;width:10px;height:11px"></div>

<!-- Sector 28 -->
<div class="h" dir="rtl" style="left:1739px;top:509px;width:51px;height:20px">...لا [+]</div>
<div class="c r3" style="left:1740px;top:530px;width:22px;height:41px"></div>
<div class="c d" style="left:1763px;top:530px;width:26px;height:26px"></div>
<div class="c m" style="left:1763px;top:557px;width:10px;height:14px"></div>
<div class="c d" style="left:1774px;top:557px;width:15px;height:9px"></div>
<div class="c g0" style="left:1774px;top:567px;width:5px;height:4px"></div>
<div class="c g0" style="left:1780px;top:567px;width:4px;height:4px"></div>
<div class="c g0" style="left:1785px;top:567px;width:4px;height:4px"></div>

<!-- Sector 29 -->
<div class="h" dir="rtl" style="left:1791px;top:509px;width:50px;height:20px">...مح [+]</div>
<div class="c g0" style="left:1792px;top:530px;width:34px;height:22px;font-size:11px">چكاپا</div>
<div class="c g3" style="left:1792px;top:553px;width:34px;height:18px"></div>
<div class="c r3" style="left:1827px;top:530px;width:14px;height:41px"></div>

<!-- Sector 30 -->
<div class="h" dir="rtl" style="left:1842px;top:509px;width:42px;height:20px">...خ [+]</div>
<div class="c r3" style="left:1843px;top:530px;width:41px;height:41px;font-size:12px">رنيك</div>

<!-- Sector 31 -->
<div class="h" dir="rtl" style="left:1665px;top:573px;width:72px;height:17px">...هتل و ر [+]</div>
<div class="c d" style="left:1666px;top:591px;width:31px;height:36px;font-size:11px">گدنا</div>
<div class="c g0" style="left:1698px;top:591px;width:23px;height:36px"></div>
<div class="c g0" style="left:1722px;top:591px;width:15px;height:36px"></div>

<!-- Sector 32 -->
<div class="h" dir="rtl" style="left:1665px;top:629px;width:72px;height:19px">...ماشين آلا [+]</div>
<div class="c r3" style="left:1666px;top:649px;width:21px;height:34px"></div>
<div class="c d" style="left:1688px;top:649px;width:16px;height:34px"></div>
<div class="c m" style="left:1705px;top:649px;width:16px;height:17px"></div>
<div class="c d" style="left:1722px;top:649px;width:15px;height:17px"></div>
<div class="c g0" style="left:1705px;top:667px;width:8px;height:16px"></div>
<div class="c g0" style="left:1714px;top:667px;width:7px;height:16px"></div>
<div class="c g0" style="left:1722px;top:667px;width:7px;height:16px"></div>
<div class="c m" style="left:1730px;top:667px;width:7px;height:10px"></div>
<div class="c r" style="left:1730px;top:678px;width:7px;height:5px"></div>

<!-- Sector 33 -->
<div class="h" dir="rtl" style="left:1739px;top:574px;width:46px;height:21px">...ان [+]</div>
<div class="c g4" style="left:1740px;top:596px;width:44px;height:33px;font-size:11px">چاقست</div>

<!-- Sector 34 -->
<div class="h" dir="rtl" style="left:1739px;top:632px;width:46px;height:19px">...سا [+]</div>
<div class="c g0" style="left:1740px;top:652px;width:44px;height:31px;font-size:11px">لبارس</div>

<!-- Sector 35 -->
<div class="h" dir="rtl" style="left:1787px;top:574px;width:48px;height:21px">...ا [+]</div>
<div class="c m" style="left:1788px;top:596px;width:46px;height:21px"></div>

<!-- Sector 36 -->
<div class="h" dir="rtl" style="left:1836px;top:574px;width:48px;height:21px">...اط [+]</div>
<div class="c g0" style="left:1837px;top:596px;width:38px;height:21px"></div>
<div class="c g0" style="left:1876px;top:596px;width:8px;height:10px"></div>
<div class="c d" style="left:1876px;top:607px;width:8px;height:10px"></div>

<!-- Sector 37 -->
<div class="h" dir="rtl" style="left:1787px;top:620px;width:48px;height:18px">...تول [+]</div>
<div class="c g1" style="left:1788px;top:639px;width:46px;height:11px"></div>

<!-- Sector 38 -->
<div class="h" dir="rtl" style="left:1836px;top:620px;width:48px;height:18px">...ا [+]</div>
<div class="c r3" style="left:1837px;top:639px;width:47px;height:5px"></div>

<!-- Sector 39 -->
<div class="h" dir="rtl" style="left:1787px;top:652px;width:48px;height:20px">...مح [+]</div>
<div class="c g1" style="left:1788px;top:673px;width:30px;height:10px"></div>
<div class="c m" style="left:1819px;top:673px;width:15px;height:10px"></div>

<!-- Sector 40 -->
<div class="h" style="left:1836px;top:647px;width:23px;height:18px">[...</div>
<div class="c g3" style="left:1837px;top:666px;width:19px;height:17px"></div>
<div class="c m" style="left:1857px;top:666px;width:2px;height:9px"></div>

<!-- Sector 41 -->
<div class="h" style="left:1861px;top:647px;width:23px;height:18px">[...</div>
<div class="c g3" style="left:1861px;top:665px;width:23px;height:2px"></div>
<div class="c" style="left:1861px;top:668px;width:23px;height:15px;background:#fff"></div>

</body></html>
